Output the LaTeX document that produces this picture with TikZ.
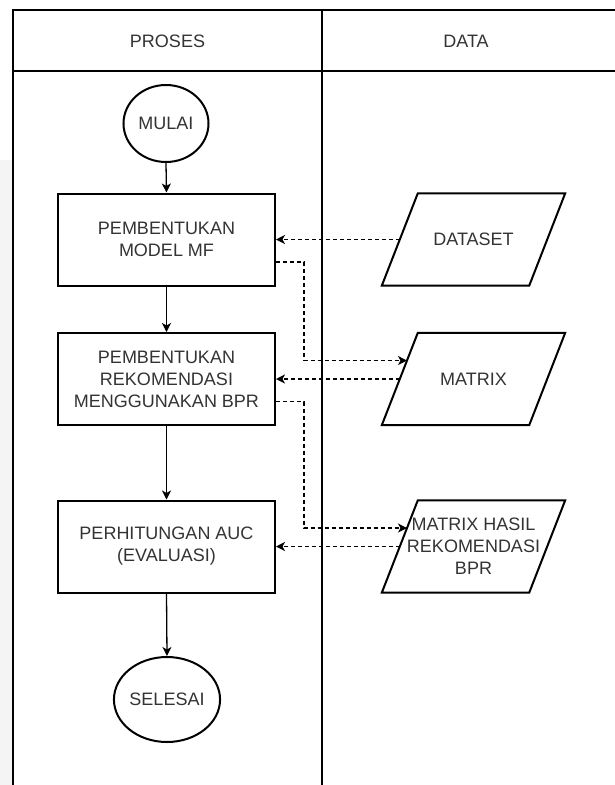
\documentclass[tikz,border=0pt]{standalone}
\usepackage{fontspec}
\setmainfont{Liberation Sans}
\usetikzlibrary{shapes.geometric,arrows.meta,calc}
\definecolor{txt}{RGB}{51,51,51}
\definecolor{strip}{RGB}{244,244,244}
\begin{document}
\begin{tikzpicture}[x=1pt,y=-1pt,
  every node/.style={font=\fontsize{18pt}{22pt}\selectfont, text=txt},
  lane/.style={line width=1.2pt, draw=black},
  hdr/.style={inner sep=0pt},
  term/.style={ellipse, draw, line width=2pt, inner sep=0pt},
  proc/.style={rectangle, draw, line width=2pt, minimum width=217pt, minimum height=92pt, align=center},
  dat/.style={rectangle, minimum width=183pt, minimum height=92pt, inner sep=0pt, align=center},
  datline/.style={draw, line width=2pt, line join=miter},
  flow/.style={line width=1.3pt, -{Stealth[length=9pt,width=9pt,inset=2.5pt]}},
  dflow/.style={line width=1.2pt, dash pattern=on 4pt off 3pt, -{Stealth[length=9pt,width=9pt,inset=2.5pt]}}
]
\useasboundingbox (0,0) rectangle (615,785);
\fill[strip] (0,160) rectangle (12,785);
\draw[lane] (13,785) -- (13,10) -- (615,10);
\draw[lane] (13,71) -- (615,71);
\draw[lane] (322,10) -- (322,785);
\node[hdr] (hp) at (167.5,41) {PROSES};
\node[hdr] (hd) at (466,41) {DATA};

\node[term, minimum width=85pt, minimum height=77pt] (start) at (166,123.5) {MULAI};
\node[proc] (b1) at (166.5,239.5) {PEMBENTUKAN\\MODEL MF};
\node[proc] (b2) at (166.5,379) {PEMBENTUKAN\\REKOMENDASI\\MENGGUNAKAN BPR};
\node[proc] (b3) at (166.5,546.5) {PERHITUNGAN AUC\\(EVALUASI)};
\node[term, minimum width=92pt, minimum height=85pt] (end) at (167,699.5) {SELESAI};

\node[dat] (d1) at (473.5,239.5) {DATASET};
\node[dat] (d2) at (473.5,379) {MATRIX};
\node[dat] (d3) at (473.5,546.5) {MATRIX HASIL\\REKOMENDASI\\BPR};
\foreach \d in {d1,d2,d3}{
  \draw[datline] (\d.south west) -- ($(\d.north west)+(36,0)$) -- (\d.north east) -- ($(\d.south east)+(-36,0)$) -- cycle;
}

\draw[flow] (start.south) -- (b1.north);
\draw[flow] (b1.south) -- (b2.north);
\draw[flow] (b2.south) -- (b3.north);
\draw[flow] (b3.south) -- (end.north);

\coordinate (d1m) at ($(d1.west)+(18,0)$);
\coordinate (d2m) at ($(d2.west)+(18,0)$);
\coordinate (d3m) at ($(d3.west)+(18,0)$);
\draw[dflow] (d1m) -- (b1.east);
\draw[dflow] (d2m) -- (b2.east);
\draw[dflow] (d3m) -- (b3.east);

\coordinate (ex) at (304,0);
\coordinate (s1) at ($(b1.north east)!0.74!(b1.south east)$);
\coordinate (t1) at ($(d2.north west)!0.3!(d2.south west)+(25.2,0)$);
\draw[dflow] (s1) -- (s1 -| ex) -- (t1 -| ex) -- (t1);
\coordinate (s2) at ($(b2.north east)!0.74!(b2.south east)$);
\coordinate (t2) at ($(d3.north west)!0.3!(d3.south west)+(25.2,0)$);
\draw[dflow] (s2) -- (s2 -| ex) -- (t2 -| ex) -- (t2);
\end{tikzpicture}
\end{document}
